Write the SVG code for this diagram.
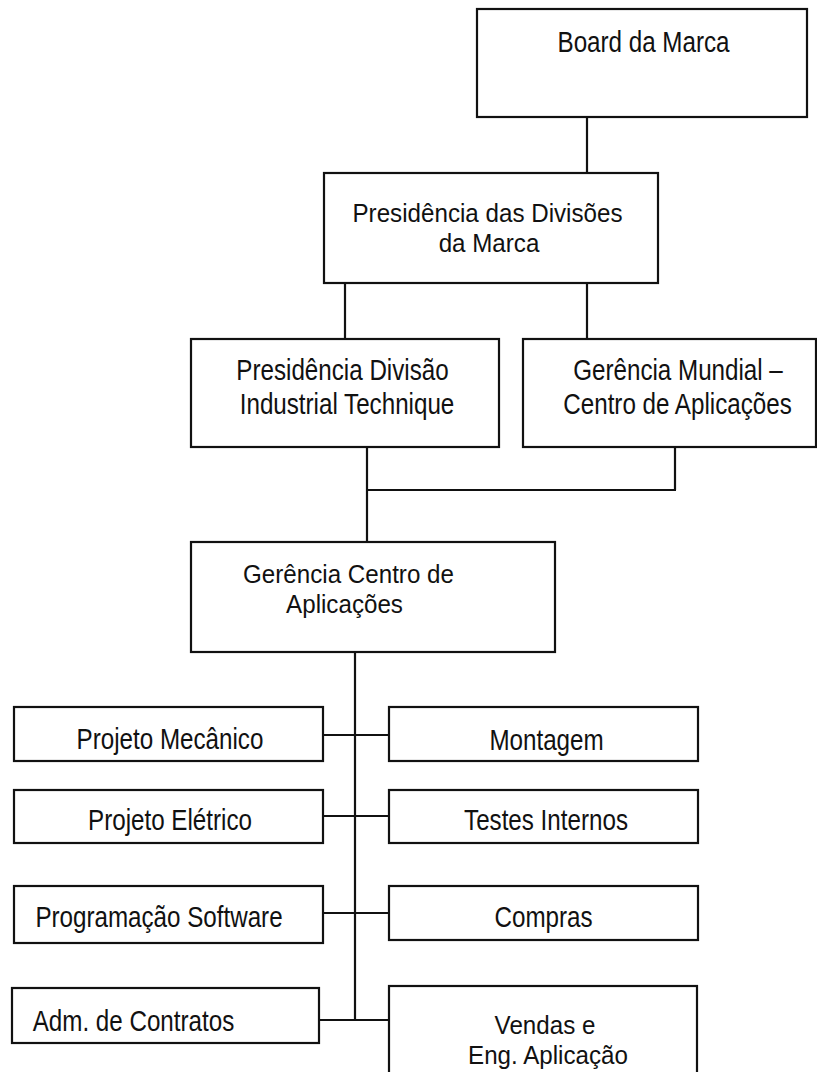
<svg xmlns="http://www.w3.org/2000/svg" width="817" height="1072" viewBox="0 0 817 1072">
<style>
.box{fill:#fff;stroke:#111;stroke-width:2.2}
.t{font-family:"Liberation Sans",Arial,sans-serif;font-size:29px;fill:#111;text-anchor:middle}
.t2{font-size:26px}
.c{stroke:#111;stroke-width:2.2;fill:none}
</style>
<rect width="817" height="1072" fill="#fff"/>
<g id="connectors">
<path class="c" d="M587 117V173"/>
<path class="c" d="M345 283V339M587 283V339"/>
<path class="c" d="M367 447V542M675 447V490M366 490H676"/>
<path class="c" d="M355 652V1019"/>
<path class="c" d="M323 735H389M323 816H389M323 913H389M319 1020H389"/>
</g>
<g id="board">
<rect class="box" x="477" y="9" width="330" height="108"/>
<text class="t" transform="translate(643.5 52) scale(0.834 1)">Board da Marca</text>
</g>
<g id="presidencia-divisoes">
<rect class="box" x="324" y="173" width="334" height="110"/>
<text class="t t2" transform="translate(487.5 222) scale(0.93 1)">Presidência das Divisões</text>
<text class="t t2" transform="translate(489 252) scale(0.93 1)">da Marca</text>
</g>
<g id="presidencia-divisao">
<rect class="box" x="191" y="339" width="308" height="108"/>
<text class="t" transform="translate(342.5 380) scale(0.834 1)">Presidência Divisão</text>
<text class="t" transform="translate(347 414) scale(0.834 1)">Industrial Technique</text>
</g>
<g id="gerencia-mundial">
<rect class="box" x="523" y="339" width="293" height="108"/>
<text class="t" transform="translate(678 380) scale(0.834 1)">Gerência Mundial –</text>
<text class="t" transform="translate(677.5 414) scale(0.834 1)">Centro de Aplicações</text>
</g>
<g id="gerencia-centro">
<rect class="box" x="191" y="542" width="364" height="110"/>
<text class="t t2" transform="translate(348.5 583) scale(0.93 1)">Gerência Centro de</text>
<text class="t t2" transform="translate(344.5 613) scale(0.93 1)">Aplicações</text>
</g>
<g id="projeto-mecanico">
<rect class="box" x="14" y="707" width="309" height="54"/>
<text class="t" transform="translate(170 749) scale(0.834 1)">Projeto Mecânico</text>
</g>
<g id="montagem">
<rect class="box" x="389" y="707" width="309" height="54"/>
<text class="t" transform="translate(546.5 750) scale(0.834 1)">Montagem</text>
</g>
<g id="projeto-eletrico">
<rect class="box" x="14" y="790" width="309" height="53"/>
<text class="t" transform="translate(170 830) scale(0.834 1)">Projeto Elétrico</text>
</g>
<g id="testes-internos">
<rect class="box" x="389" y="790" width="309" height="53"/>
<text class="t" transform="translate(546 830) scale(0.834 1)">Testes Internos</text>
</g>
<g id="programacao-software">
<rect class="box" x="14" y="886" width="309" height="57"/>
<text class="t" transform="translate(159 927) scale(0.834 1)">Programação Software</text>
</g>
<g id="compras">
<rect class="box" x="389" y="886" width="309" height="54"/>
<text class="t" transform="translate(543.5 927) scale(0.834 1)">Compras</text>
</g>
<g id="adm-contratos">
<rect class="box" x="12" y="988" width="307" height="55"/>
<text class="t" transform="translate(133.5 1031) scale(0.834 1)">Adm. de Contratos</text>
</g>
<g id="vendas">
<rect class="box" x="389" y="986" width="308" height="100"/>
<text class="t t2" transform="translate(545 1034) scale(0.93 1)">Vendas e</text>
<text class="t t2" transform="translate(548 1064) scale(0.93 1)">Eng. Aplicação</text>
</g>
</svg>
